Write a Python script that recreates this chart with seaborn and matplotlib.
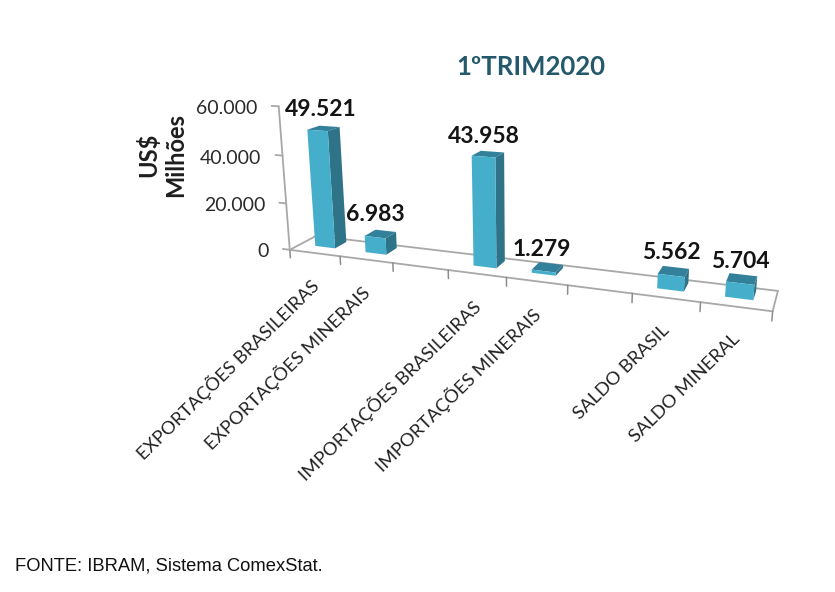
import numpy as np
import pandas as pd
import matplotlib
matplotlib.use("Agg")
import matplotlib.pyplot as plt
import matplotlib.transforms as mtransforms
from matplotlib.patches import Polygon
import seaborn as sns

# Chart values
categories = ["EXPORTAÇÕES BRASILEIRAS", "EXPORTAÇÕES MINERAIS", "IMPORTAÇÕES BRASILEIRAS",
              "IMPORTAÇÕES MINERAIS", "SALDO BRASIL", "SALDO MINERAL"]
slots = [0, 1, 3, 4, 6, 7]   # slots 2 and 5 stay empty
values = [49521, 6983, 43958, 1279, 5562, 5704]
y_ticks = [0, 20000, 40000, 60000]

FRONT = "#45AECB"
SIDE = "#2F7389"
TOP = "#33809A"
GRID = "#A8A8A8"
W, H = 835, 592
D0, D1 = 0.4, 0.85   # depth of bar front and back
BAR_W = 0.4

# value label offsets from the back top of each bar, in pixels
label_offsets = [(-9, 17), (-10, 16), (-9, 15), (-9, 14), (-5, 15), (-3, 13)]

# picture points (slot, value, depth) -> (px, py) used to fit the perspective
ref_points = [
    (-.5, 0, 0, 291, 249), (7.5, 0, 0, 773, 312), (7.5, 0, 1, 779, 287), (-.5, 0, 1, 315, 237),
    (-.5, 60000, 0, 278, 106), (-.5, 20000, 0, 286, 203),
    (-.2, 49521, D0, 307, 130), (.2, 49521, D0, 328, 129), (.2, 49521, D1, 341, 128),
    (2.8, 43958, D0, 472, 157), (3.2, 43958, D0, 495, 157), (3.2, 43958, D1, 504, 153),
    (6.8, 5704, D0, 726, 283), (7.2, 5704, D0, 753, 285), (7.2, 0, D0, 753, 301),
    (6.8, 0, D0, 726, 297), (7.2, 5704, D1, 757, 277),
    (5.8, 5562, D0, 657, 273), (6.2, 0, D0, 684, 292),
    (.8, 6983, D0, 365, 237), (1.2, 0, D0, 386, 254),
]


def project_matrix():
    A, b = [], []
    for x, v, d, px, py in ref_points:
        v = v / 10000
        A.append([x, v, d, 1, 0, 0, 0, 0, -px * x, -px * v, -px * d])
        b.append(px)
        A.append([0, 0, 0, 0, x, v, d, 1, -py * x, -py * v, -py * d])
        b.append(py)
    sol = np.linalg.lstsq(np.array(A, float), np.array(b, float), rcond=None)[0]
    return np.append(sol, 1.0).reshape(3, 4)


P = project_matrix()


class Persp(mtransforms.Transform):
    """(slot, value) at a given floor depth -> display pixels"""
    input_dims = 2
    output_dims = 2
    is_separable = False
    has_inverse = False

    def __init__(self, floor_depth):
        super().__init__()
        self.floor_depth = floor_depth

    def transform_non_affine(self, values):
        values = np.asarray(values, float)
        n = len(values)
        pts = np.column_stack([values[:, 0], values[:, 1] / 10000, np.full(n, self.floor_depth), np.ones(n)])
        q = pts @ P.T
        return np.column_stack([q[:, 0] / q[:, 2], H - q[:, 1] / q[:, 2]])


df = pd.DataFrame({"slot": slots, "value": values})

sns.set_theme(style="white")
plt.rcParams["font.family"] = ["Lato", "DejaVu Sans"]

fig = plt.figure(figsize=(W / 100, H / 100), dpi=100)
ax = fig.add_axes([0, 0, 1, 1])
sns.barplot(data=df, x="slot", y="value", native_scale=True, width=BAR_W, color=FRONT,
            saturation=1, errorbar=None, ax=ax)
ax.set_axis_off()

front, back, floor_front = Persp(D0), Persp(D1), Persp(0)
floor_back = Persp(1)

# Floor and axes
lo, hi = -0.5, 7.5
line = dict(color=GRID, lw=1.3, clip_on=False, zorder=0.5)
ax.plot([lo, hi], [0, 0], transform=floor_front, **line)
ax.plot([lo, hi], [0, 0], transform=floor_back, **line)
for x in (lo, hi):
    a = floor_front.transform([[x, 0]])[0]
    b = floor_back.transform([[x, 0]])[0]
    ax.plot([a[0], b[0]], [a[1], b[1]], transform=mtransforms.IdentityTransform(), **line)
ax.plot([lo, lo], [0, max(y_ticks)], transform=floor_front, **line)
for s in np.arange(lo, hi + 1):
    ax.plot([s, s], [0, -3500], transform=floor_front, color="#8C8C8C", lw=1.1, clip_on=False, zorder=0.5)

for t in y_ticks:
    ax.plot([lo, lo - 0.14], [t, t], transform=floor_front, **line)
    ax.annotate(f"{t:,}".replace(",", "."), xy=(lo - 0.14, t), xycoords=floor_front,
                xytext=(-14, -3), textcoords="offset pixels", ha="right", va="center",
                fontsize=14, color="#2B2B2B")

# Bars: seaborn gives the front faces, the rest is built from their geometry
for bar in list(ax.patches):
    x0, x1 = bar.get_x(), bar.get_x() + bar.get_width()
    v = bar.get_height()
    bar.set_transform(front)
    bar.set_clip_on(False)
    bar.set_linewidth(0)
    bar.set_zorder(2)
    f0, f1 = front.transform([[x0, v], [x1, v]])
    b0, b1 = back.transform([[x0, v], [x1, v]])
    fb, bb = front.transform([[x1, 0]])[0], back.transform([[x1, 0]])[0]
    ax.add_patch(Polygon([f0, f1, b1, b0], closed=True, fc=TOP, lw=0, clip_on=False, zorder=1.9,
                         transform=mtransforms.IdentityTransform()))
    ax.add_patch(Polygon([f1, b1, bb, fb], closed=True, fc=SIDE, lw=0, clip_on=False, zorder=1.9,
                         transform=mtransforms.IdentityTransform()))

# Value labels
for s, v, off in zip(slots, values, label_offsets):
    ax.annotate(f"{v:,}".replace(",", "."), xy=(s, v), xycoords=back, xytext=off,
                textcoords="offset pixels", ha="center", va="center", fontsize=16.5,
                fontweight="bold", color="#141414", zorder=5)

# Category labels
for s, name in zip(slots, categories):
    ax.annotate(name, xy=(s, 0), xycoords=floor_front, xytext=(1, -30), textcoords="offset pixels",
                ha="right", va="center", rotation=44.5, rotation_mode="anchor",
                fontsize=13.3, color="#222222")

fig.text(531 / W, 1 - 67 / H, "1ºTRIM2020", ha="center", va="center", fontsize=18.5,
         fontweight="bold", color="#24596C")
fig.text(162 / W, 1 - 155 / H, "US$\nMilhões", ha="center", va="center", rotation=90,
         fontsize=17, fontweight="bold", color="#1E1E1E", linespacing=1.2)
fig.text(15 / W, 1 - 566 / H, "FONTE: IBRAM, Sistema ComexStat.", ha="left", va="center",
         fontsize=13.25, color="#111111", family=["Liberation Sans", "DejaVu Sans"])

fig.savefig("out.png", dpi=100)
